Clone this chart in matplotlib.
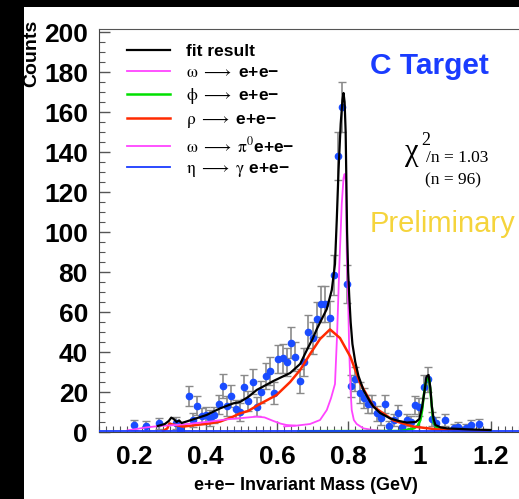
#!/usr/bin/python
#  -*- coding:utf-8 -*-
import matplotlib
matplotlib.use('Agg')
import matplotlib.pyplot as plt
from matplotlib.patches import Rectangle
from matplotlib.ticker import MultipleLocator

plt.rcParams['mathtext.fontset'] = 'stix'

# measured spectrum (bin centre, counts, error)
mass = [0.197, 0.233, 0.268, 0.316, 0.328, 0.352, 0.364, 0.376, 0.388, 0.400,
        0.412, 0.424, 0.436, 0.448, 0.460, 0.472, 0.484, 0.496, 0.508, 0.520,
        0.532, 0.544, 0.556, 0.568, 0.580, 0.592, 0.604, 0.616, 0.628, 0.640,
        0.652, 0.664, 0.676, 0.688, 0.700, 0.712, 0.724, 0.736, 0.748, 0.760,
        0.772, 0.784, 0.796, 0.808, 0.820, 0.832, 0.844, 0.856, 0.868, 0.880,
        0.892, 0.904, 0.916, 0.928, 0.940, 0.952, 0.964, 0.976, 0.988, 1.000,
        1.012, 1.024, 1.036, 1.048, 1.072, 1.096, 1.108, 1.132, 1.144, 1.168]
counts = [3.5, 3.2, 4.3, 4.7, 1.3, 18.2, 6.0, 13.2, 8.2, 8.5,
          7.0, 8.5, 13.8, 23.2, 13.0, 18.2, 11.3, 10.0, 22.3, 15.7,
          25.2, 12.7, 20.2, 28.0, 30.5, 19.3, 36.5, 36.8, 35.2, 44.7,
          37.7, 25.5, 35.0, 50.2, 46.8, 56.3, 64.0, 64.0, 56.8, 78.5,
          138.0, 162.7, 74.0, 23.0, 26.3, 19.7, 17.0, 14.0, 14.0, 9.3,
          6.8, 14.0, 3.2, 6.0, 9.7, 2.5, 6.0, 5.0, 13.5, 12.7,
          22.7, 26.3, 6.5, 4.7, 6.0, 2.0, 2.5, 1.8, 3.5, 3.8]
errors = [2.6, 2.5, 2.8, 3.0, 2.0, 5.0, 3.5, 4.8, 4.0, 4.0,
          3.8, 4.0, 4.8, 6.0, 4.8, 5.5, 4.5, 4.3, 6.0, 5.0,
          6.2, 4.6, 5.5, 6.5, 6.8, 5.5, 7.2, 7.2, 7.0, 7.8,
          7.2, 6.0, 7.0, 8.2, 8.0, 8.6, 9.0, 9.0, 8.6, 10.0,
          12.0, 12.5, 9.5, 5.5, 6.0, 5.3, 5.0, 4.6, 4.6, 3.8,
          3.4, 4.6, 2.5, 3.2, 4.0, 2.3, 3.2, 3.0, 4.6, 4.5,
          5.8, 6.2, 3.6, 3.0, 3.2, 2.2, 2.3, 2.0, 2.6, 2.6]

# fit result
fit_x = [0.265, 0.285, 0.296, 0.303, 0.310, 0.318, 0.325, 0.332, 0.345, 0.373,
         0.402, 0.440, 0.477, 0.496, 0.519, 0.543, 0.590, 0.637, 0.665, 0.684,
         0.700, 0.712, 0.740, 0.754, 0.763, 0.768, 0.773, 0.779, 0.784, 0.787,
         0.790, 0.793, 0.795, 0.797, 0.800, 0.803, 0.807, 0.812, 0.820, 0.829,
         0.843, 0.862, 0.871, 0.890, 0.918, 0.940, 0.965, 0.990, 1.000, 1.008,
         1.015, 1.020, 1.026, 1.031, 1.035, 1.040, 1.045, 1.060, 1.078, 1.140,
         1.200]
fit_y = [3.0, 4.0, 5.5, 7.2, 6.5, 5.0, 5.8, 4.5, 5.2, 6.8,
         8.5, 11.8, 14.3, 15.0, 17.5, 21.0, 25.5, 29.5, 34.0, 41.0,
         46.5, 51.5, 61.5, 71.0, 84.0, 106.0, 131.0, 154.0, 166.0, 169.5,
         165.0, 150.0, 125.0, 100.0, 80.0, 68.0, 55.0, 44.0, 35.0, 28.0,
         21.0, 15.0, 12.7, 9.5, 6.8, 5.6, 4.7, 5.0, 6.5, 12.7,
         21.0, 27.7, 28.5, 22.0, 13.0, 6.5, 3.5, 2.3, 1.8, 1.3,
         1.0]

# omega -> e+e-
omega_x = [0.620, 0.655, 0.693, 0.721, 0.740, 0.752, 0.763, 0.769, 0.775, 0.782,
           0.787, 0.790, 0.794, 0.796, 0.800, 0.803, 0.807, 0.810, 0.816, 0.824,
           0.843, 0.870, 0.900]
omega_y = [2.8, 3.2, 4.0, 6.0, 11.0, 17.0, 24.0, 49.0, 82.0, 114.0,
           127.0, 129.0, 125.0, 90.0, 65.0, 41.0, 20.0, 11.0, 6.0, 4.0,
           1.8, 1.0, 0.6]

# phi -> e+e-
phi_x = [0.660, 0.950, 0.984, 0.995, 1.003, 1.008, 1.012, 1.017, 1.022, 1.027,
         1.031, 1.035, 1.038, 1.041, 1.048, 1.058, 1.080, 1.200]
phi_y = [0.4, 0.5, 1.8, 3.0, 6.0, 11.0, 17.7, 24.0, 26.5, 27.0,
         21.0, 12.7, 7.5, 4.3, 2.5, 1.8, 1.0, 0.5]

# rho -> e+e-
rho_x = [0.280, 0.292, 0.298, 0.305, 0.315, 0.336, 0.373, 0.411, 0.440, 0.477,
         0.496, 0.519, 0.552, 0.599, 0.637, 0.665, 0.693, 0.721, 0.749, 0.777,
         0.806, 0.834, 0.871, 0.928, 0.984, 1.050, 1.190]
rho_y = [0.5, 1.8, 4.3, 3.8, 3.5, 2.7, 3.5, 4.3, 5.2, 7.7,
         9.3, 10.5, 14.0, 18.5, 25.0, 31.0, 39.0, 46.5, 51.3, 47.0,
         37.7, 24.3, 12.7, 5.7, 2.7, 1.3, 0.5]

# omega -> pi0 e+e-
dalitz_x = [0.180, 0.233, 0.270, 0.317, 0.364, 0.411, 0.458, 0.496, 0.520, 0.543,
            0.565, 0.590, 0.610, 0.627, 0.650]
dalitz_y = [0.8, 2.3, 3.0, 3.5, 4.3, 5.2, 6.3, 6.9, 7.3, 7.7,
            7.3, 5.5, 4.2, 3.5, 3.2]

# eta -> gamma e+e-
eta_x = [0.10, 0.50, 1.00, 1.28]
eta_y = [0.3, 0.3, 0.3, 0.3]

xticks = [0.2, 0.4, 0.6, 0.8, 1.0, 1.2]
xticklabels = ['0.2', '0.4', '0.6', '0.8', '1', '1.2']
yticks = [0, 20, 40, 60, 80, 100, 120, 140, 160, 180, 200]

sans = ['Liberation Sans', 'DejaVu Sans']
serif = ['Liberation Serif', 'DejaVu Serif']

W, H = 519, 499
fig = plt.figure(figsize=(W / 100.0, H / 100.0), dpi=100, facecolor='black')
fig.patches.append(Rectangle((24.0 / W, 0), 1, 1 - 7.0 / H, transform=fig.transFigure,
                             facecolor='white', edgecolor='none', zorder=-10))

ax = fig.add_axes([99.0 / W, 67.0 / H, 1 - 99.0 / W, 403.0 / H])
ax.set_facecolor('white')

eb = ax.errorbar(mass, counts, yerr=errors, fmt='o', ms=4.5, mfc='#1a4cff', mec='#1a4cff',
                 ecolor='#8a8a8a', elinewidth=1.2, capsize=3, capthick=1.0, zorder=2)
for cap in eb[1]:
    cap.set_color('#333333')

ax.plot(fit_x, fit_y, color='black', lw=1.6, label='fit result', zorder=4)
ax.plot(omega_x, omega_y, color='#ff44ff', lw=1.3, label=r'$\mathrm{\omega}\ \longrightarrow$ e+e−', zorder=3)
ax.plot(phi_x, phi_y, color='#00e000', lw=1.8, label=r'$\mathrm{\phi}\ \longrightarrow$ e+e−', zorder=3)
ax.plot(rho_x, rho_y, color='#ff2a00', lw=1.8, label=r'$\mathrm{\rho}\ \longrightarrow$ e+e−', zorder=3)
ax.plot(dalitz_x, dalitz_y, color='#ff44ff', lw=1.3,
        label=r'$\mathrm{\omega}\ \longrightarrow\ \mathrm{\pi}^{0}$e+e−', zorder=3)
ax.plot(eta_x, eta_y, color='#1a3cff', lw=1.3,
        label=r'$\mathrm{\eta}\ \longrightarrow\ \mathrm{\gamma}$ e+e−', zorder=3)

ax.set_xlim(0.1, 1.28)
ax.set_ylim(0, 201.5)

ax.spines['right'].set_visible(False)
ax.spines['top'].set_color('#555555')
ax.spines['top'].set_linewidth(0.8)
ax.spines['left'].set_color('#444444')
ax.spines['bottom'].set_color('#444444')

ax.set_xticks(xticks)
ax.set_xticklabels(xticklabels)
ax.set_yticks(yticks)
ax.xaxis.set_minor_locator(MultipleLocator(0.02))
ax.yaxis.set_minor_locator(MultipleLocator(5))
ax.tick_params(which='both', direction='in', top=False, right=False, color='#555555')
ax.tick_params(which='major', length=8, width=1)
ax.tick_params(which='minor', length=4, width=0.8)
ax.tick_params(axis='y', which='major', pad=8)
ax.tick_params(axis='x', which='major', pad=9)
for lab in ax.get_xticklabels() + ax.get_yticklabels():
    lab.set_fontfamily(sans)
    lab.set_fontweight('bold')
    lab.set_fontsize(19)

fig.text(32.0 / W, 1 - 53.0 / H, 'Counts', rotation=90, ha='center', va='center',
         family=sans, fontweight='bold', fontsize=14)
fig.text(306.0 / W, 1 - 486.0 / H, 'e+e− Invariant Mass (GeV)', ha='center', va='center',
         family=sans, fontweight='bold', fontsize=13)

leg = ax.legend(loc='upper left', bbox_to_anchor=(127.0 / W, 1 - 44.0 / H),
                bbox_transform=fig.transFigure, frameon=False, borderpad=0,
                borderaxespad=0, handlelength=2.5, handletextpad=0.9, labelspacing=0.33,
                prop={'family': sans, 'weight': 'bold', 'size': 12.5})

fig.text(429.0 / W, 1 - 66.0 / H, 'C Target', ha='center', va='center', color='#1a3cff',
         family=sans, fontweight='bold', fontsize=21.5)
fig.text(405.0 / W, 1 - 152.0 / H, 'χ', ha='left', va='center', color='black',
         family=serif, fontsize=22)
fig.text(421.0 / W, 1 - 140.0 / H, '2', ha='left', va='center', color='black',
         family=serif, fontsize=13)
fig.text(426.0 / W, 1 - 158.0 / H, '/n = 1.03', ha='left', va='center', color='black',
         family=serif, fontsize=12.5)
fig.text(453.0 / W, 1 - 180.0 / H, '(n = 96)', ha='center', va='center', color='black',
         family=serif, fontsize=12.5)
fig.text(442.0 / W, 1 - 224.0 / H, 'Preliminary', ha='center', va='center', color='#f5d43c',
         family=sans, fontsize=21)

fig.savefig('out.png', dpi=100, facecolor=fig.get_facecolor())
